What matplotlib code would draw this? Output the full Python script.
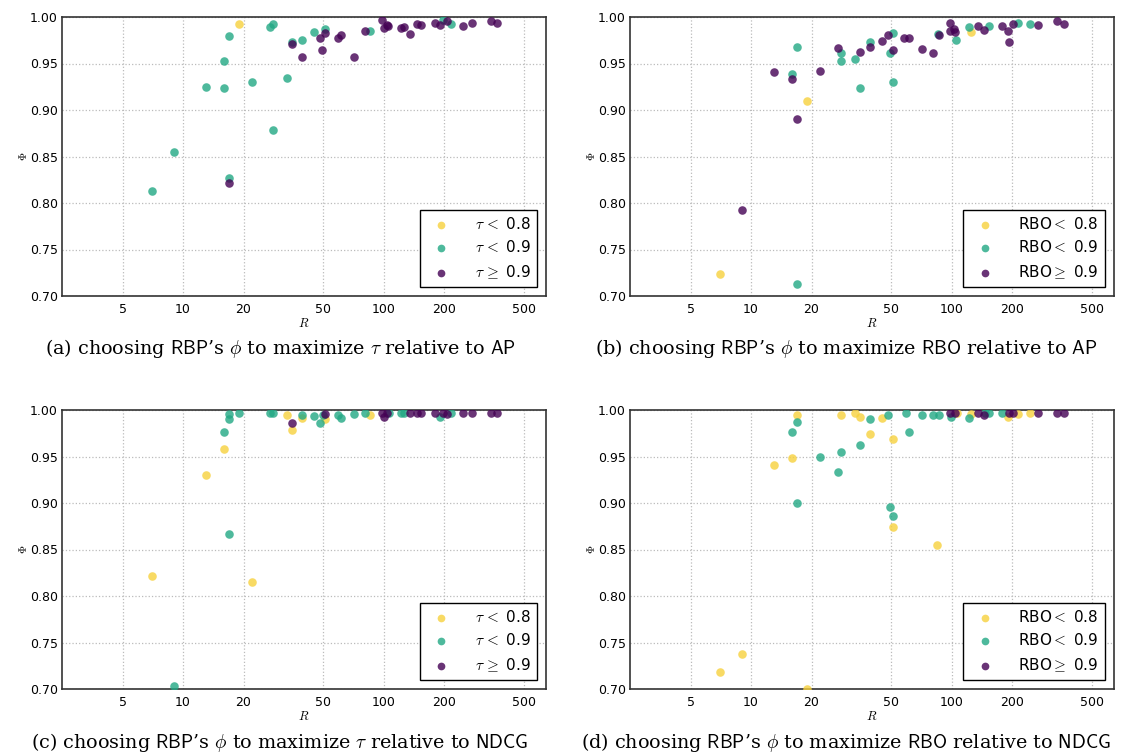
import numpy as np
import matplotlib
matplotlib.use('Agg')
import matplotlib.pyplot as plt
from matplotlib.ticker import FixedLocator, FormatStrFormatter, NullLocator

matplotlib.rcParams['mathtext.fontset'] = 'cm'
matplotlib.rcParams['font.family'] = 'DejaVu Sans'

# (a) tau vs AP
a_r0 = [19]
a_p0 = [0.992]
a_r1 = [17, 27, 28, 35, 39, 16, 13, 16, 22, 33, 28, 9, 17, 7, 45, 51, 85, 196, 215]
a_p1 = [0.980, 0.989, 0.9925, 0.973, 0.975, 0.953, 0.925, 0.924, 0.930, 0.934,
        0.8786, 0.8545, 0.8265, 0.8125, 0.984, 0.987, 0.985, 0.9968, 0.9925]
a_r2 = [35, 39, 17, 51, 48, 49, 59, 61, 71, 80, 98, 100, 103, 105, 122, 126,
        135, 146, 152, 179, 191, 205, 248, 273, 340, 365]
a_p2 = [0.971, 0.957, 0.8214, 0.983, 0.977, 0.964, 0.977, 0.981, 0.9565, 0.985,
        0.9963, 0.988, 0.991, 0.990, 0.9885, 0.9895, 0.982, 0.9925, 0.9914,
        0.9935, 0.991, 0.9957, 0.990, 0.994, 0.9953, 0.994]

# (b) RBO vs AP
b_r0 = [7, 19, 125]
b_p0 = [0.7235, 0.9093, 0.9836]
b_r1 = [17, 16, 17, 28, 28, 33, 35, 39, 51, 49, 51, 85, 105, 122, 152, 213, 245]
b_p1 = [0.7124, 0.9383, 0.968, 0.9618, 0.9528, 0.9547, 0.924, 0.9729, 0.9825,
        0.961, 0.930, 0.9818, 0.9758, 0.9897, 0.9908, 0.9933, 0.9929]
b_r2 = [9, 17, 13, 16, 22, 27, 35, 39, 45, 48, 51, 58, 61, 71, 80, 86, 98, 98,
        102, 103, 134, 145, 178, 189, 193, 202, 269, 334, 360]
b_p2 = [0.7928, 0.890, 0.9407, 0.9336, 0.9418, 0.9668, 0.9625, 0.968, 0.9747,
        0.9807, 0.9646, 0.9775, 0.9775, 0.966, 0.961, 0.981, 0.9936, 0.9847,
        0.9875, 0.9839, 0.9904, 0.9865, 0.9908, 0.9847, 0.9729, 0.9925, 0.9914,
        0.9954, 0.9925]

# (c) tau vs NDCG
c_r0 = [7, 22, 13, 16, 33, 35, 39, 51, 85]
c_p0 = [0.821, 0.8153, 0.9305, 0.958, 0.9943, 0.9785, 0.9914, 0.990, 0.995]
c_r1 = [9, 17, 16, 17, 17, 19, 27, 28, 39, 45, 48, 50, 59, 61, 71, 80, 106, 122,
        126, 191, 215]
c_p1 = [0.7028, 0.8668, 0.9764, 0.990, 0.9954, 0.9964, 0.9964, 0.997, 0.9943,
        0.9932, 0.986, 0.9946, 0.9946, 0.9917, 0.9954, 0.9964, 0.997, 0.997,
        0.997, 0.9928, 0.997]
c_r2 = [35, 51, 98, 100, 103, 135, 146, 152, 179, 196, 205, 248, 273, 340, 365]
c_p2 = [0.9864, 0.9954, 0.997, 0.9928, 0.997, 0.997, 0.9964, 0.997, 0.9964,
        0.997, 0.9957, 0.997, 0.997, 0.997, 0.997]

# (d) RBO vs NDCG
d_r0 = [7, 9, 19, 13, 16, 17, 28, 33, 35, 39, 45, 51, 51, 84, 106, 125, 189, 213, 245]
d_p0 = [0.7183, 0.7372, 0.700, 0.9413, 0.9484, 0.995, 0.9943, 0.997, 0.9928,
        0.9742, 0.991, 0.8747, 0.9692, 0.855, 0.997, 0.9954, 0.9928, 0.996, 0.997]
d_r1 = [17, 16, 17, 22, 27, 28, 35, 39, 48, 49, 51, 59, 61, 71, 80, 86, 99, 122,
        146, 152, 178]
d_p1 = [0.9005, 0.9764, 0.9871, 0.9495, 0.9334, 0.9552, 0.9624, 0.990, 0.995,
        0.8958, 0.8865, 0.997, 0.9764, 0.995, 0.9943, 0.9943, 0.992, 0.9914,
        0.997, 0.997, 0.9964]
d_r2 = [98, 103, 134, 145, 193, 202, 269, 334, 360]
d_p2 = [0.997, 0.997, 0.997, 0.9943, 0.997, 0.997, 0.997, 0.997, 0.997]

xticks = [5, 10, 20, 50, 100, 200, 500]
yticks = [0.70, 0.75, 0.80, 0.85, 0.90, 0.95, 1.00]
colors = ['#f7d13d', '#22a884', '#440154']
tau_labels = [r'$\tau\,<$ 0.8', r'$\tau\,<$ 0.9', r'$\tau\,\geq$ 0.9']
rbo_labels = [r'RBO$<$ 0.8', r'RBO$<$ 0.9', r'RBO$\geq$ 0.9']

captions = [
    r"(a) choosing $\mathsf{RBP}$’s $\phi$ to maximize $\tau$ relative to $\mathsf{AP}$",
    r"(b) choosing $\mathsf{RBP}$’s $\phi$ to maximize $\mathsf{RBO}$ relative to $\mathsf{AP}$",
    r"(c) choosing $\mathsf{RBP}$’s $\phi$ to maximize $\tau$ relative to $\mathsf{NDCG}$",
    r"(d) choosing $\mathsf{RBP}$’s $\phi$ to maximize $\mathsf{RBO}$ relative to $\mathsf{NDCG}$",
]

W, H = 1121., 756.
fig = plt.figure(figsize=(11.21, 7.56), dpi=100)

def panel(left_px, top_px, groups, labels, caption, cap_x):
    ax = fig.add_axes([left_px / W, 1 - (top_px + 279) / H, 484 / W, 279 / H])
    for (r, p), c, lab in zip(groups, colors, labels):
        ax.scatter(r, p, s=38, c=c, alpha=0.8, linewidths=0, label=lab, zorder=3)
    ax.set_xscale('log')
    ax.set_xlim(2.5, 640)
    ax.set_ylim(0.70, 1.00)
    ax.xaxis.set_major_locator(FixedLocator(xticks))
    ax.xaxis.set_minor_locator(NullLocator())
    ax.set_xticklabels([str(t) for t in xticks])
    ax.yaxis.set_major_locator(FixedLocator(yticks))
    ax.yaxis.set_major_formatter(FormatStrFormatter('%.2f'))
    ax.tick_params(axis='both', length=0, labelsize=9)
    ax.tick_params(axis='x', pad=5)
    ax.tick_params(axis='y', pad=3)
    ax.grid(True, linestyle=':', color='#bbbbbb', linewidth=0.9)
    ax.set_axisbelow(True)
    for sp in ax.spines.values():
        sp.set_color('#333333')
        sp.set_linewidth(1.2)
    leg = ax.legend(loc='lower right', scatterpoints=1, fontsize=11,
                    fancybox=False, framealpha=1, edgecolor='black',
                    handletextpad=1.2, borderaxespad=0.6, markerscale=0.9)
    leg.get_frame().set_linewidth(1.0)
    ax.set_xlabel(r'$R$', fontsize=9, labelpad=1)
    ax.set_ylabel(r'$\Phi$', fontsize=8, labelpad=0.5)
    fig.text(cap_x / W, 1 - (top_px + 332) / H, caption, ha='center', va='center',
             fontsize=13.8, family='DejaVu Serif')
    return ax

panel(62, 17, [(a_r0, a_p0), (a_r1, a_p1), (a_r2, a_p2)], tau_labels, captions[0], 280)
panel(630, 17, [(b_r0, b_p0), (b_r1, b_p1), (b_r2, b_p2)], rbo_labels, captions[1], 846)
panel(62, 410, [(c_r0, c_p0), (c_r1, c_p1), (c_r2, c_p2)], tau_labels, captions[2], 280)
panel(630, 410, [(d_r0, d_p0), (d_r1, d_p1), (d_r2, d_p2)], rbo_labels, captions[3], 846)

fig.savefig('out.png', dpi=100)
